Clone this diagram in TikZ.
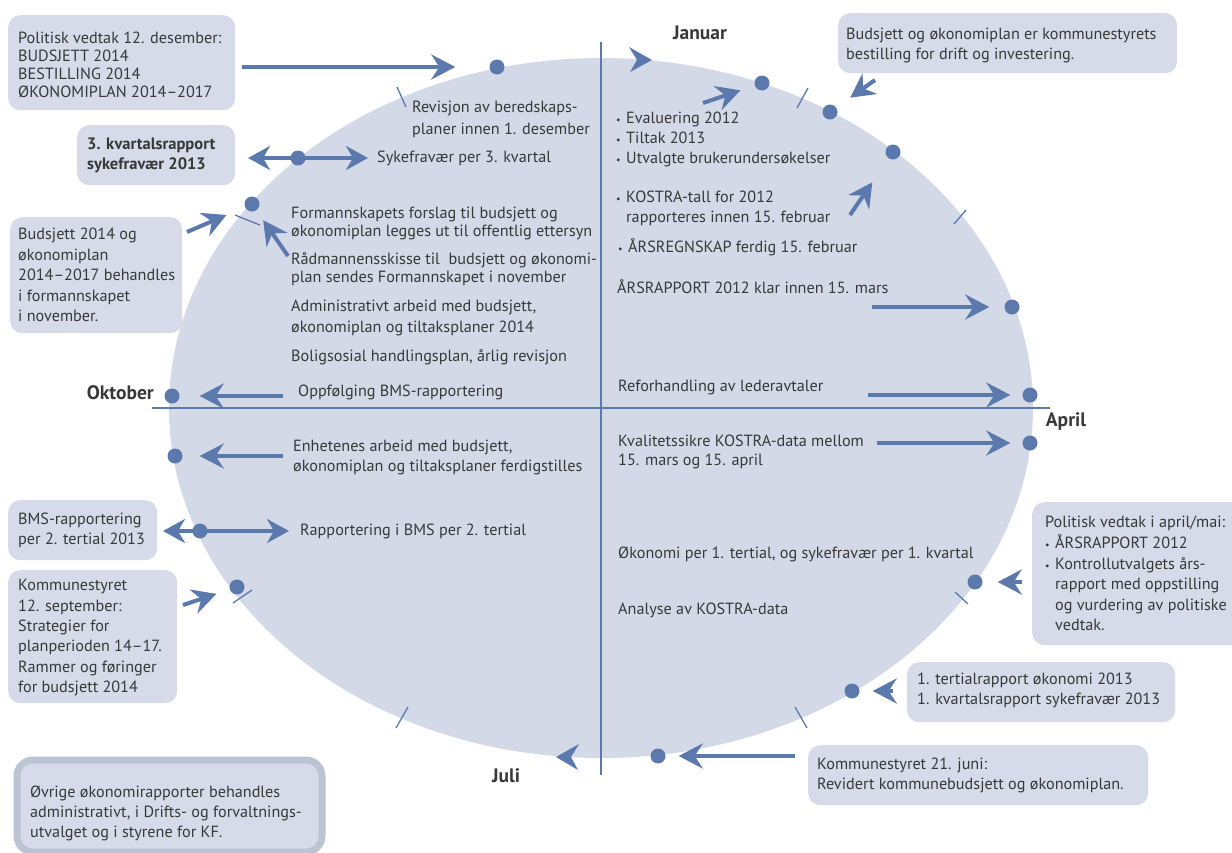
\documentclass[tikz,border=0pt]{standalone}
\usepackage{fontspec}
\setmainfont{PT Sans}
\usetikzlibrary{arrows.meta}
\definecolor{lineblue}{HTML}{5B79AD}
\definecolor{ellfill}{HTML}{D4D9E8}
\definecolor{boxfill}{HTML}{D7DBE9}
\definecolor{boxborder}{HTML}{BCC3D3}
\definecolor{txtcol}{HTML}{383838}
\newcommand{\bul}{\makebox[10pt][l]{{\fontsize{10}{10}\selectfont •}}}
\newcommand{\fs}[1]{\fontsize{16.2}{#1}\selectfont}
\tikzset{
 txt/.style={text=txtcol, font=\fs{19}, align=left, anchor=west, inner sep=0pt},
 monthlbl/.style={text=txtcol, font=\fontsize{19.5}{20}\selectfont\bfseries, inner sep=0pt},
 infobox/.style={fill=boxfill, rounded corners=12pt, anchor=north west, inner sep=0pt},
 evdot/.style={circle, fill=lineblue, minimum size=15pt, inner sep=0pt},
 arr/.style={draw=lineblue, line width=4pt, -{Stealth[length=24pt,width=25pt,inset=8pt]}},
 darr/.style={draw=lineblue, line width=4pt, {Stealth[length=22pt,width=24pt,inset=7pt]}-{Stealth[length=22pt,width=24pt,inset=7pt]}},
 monthtick/.style={draw=lineblue, line width=1.3pt},
 axisline/.style={draw=lineblue, line width=1.6pt},
 chev/.style={fill=lineblue},
}
\begin{document}
\begin{tikzpicture}[x=1pt,y=-1pt]
\useasboundingbox (0,0) rectangle (1232,852);
% wheel
\fill[ellfill] (601,408) ellipse [x radius=432, y radius=350];
\coordinate (vtop) at (601,42);
\coordinate (vbot) at (601,775);
\coordinate (hleft) at (152,408);
\coordinate (hright) at (1050,408);
\draw[axisline] (vtop) -- (vbot);
\draw[axisline] (hleft) -- (hright);

% month ticks
\draw[monthtick] (397,87) -- (406,107);
\draw[monthtick] (235,215) -- (260,225);
\draw[monthtick] (797,108) -- (808,88);
\draw[monthtick] (954,224) -- (966,210);
\draw[monthtick] (955,592) -- (968,604);
\draw[monthtick] (795,707) -- (807,728);
\draw[monthtick] (396,728) -- (408,707);
\draw[monthtick] (233,603) -- (252,590);

% direction chevrons
\fill[chev] (652,60) -- (629,47) -- (637,60) -- (630,72) -- cycle;
\fill[chev] (556,757) -- (579,744) -- (571,757) -- (578,770) -- cycle;

% month labels
\node[monthlbl] (jan) at (700,33) {Januar};
\node[monthlbl, anchor=east] (okt) at (154,393) {Oktober};
\node[monthlbl] (apr) at (1066,422) {April};
\node[monthlbl] (jul) at (506,776) {Juli};

% dots
\node[evdot] (d1) at (497,67) {};
\node[evdot] (d2) at (298,158) {};
\node[evdot] (d3) at (252,204) {};
\node[evdot] (d4) at (172,396) {};
\node[evdot] (d5) at (175,456) {};
\node[evdot] (d6) at (200,531) {};
\node[evdot] (d7) at (237,587) {};
\node[evdot] (d8) at (658,756) {};
\node[evdot] (d9) at (852,691) {};
\node[evdot] (d10) at (975,582) {};
\node[evdot] (d11) at (1030,443) {};
\node[evdot] (d12) at (1030,395) {};
\node[evdot] (d13) at (1012,307) {};
\node[evdot] (d14) at (893,152) {};
\node[evdot] (d15) at (830,112) {};
\node[evdot] (d16) at (762,83) {};

% boxes
\node[infobox, minimum width=227pt, minimum height=95pt] (boxA) at (8,15) {};
\node[txt, font=\fs{18}] (boxAt) at ([xshift=10pt,yshift=-2pt]boxA.west) {Politisk vedtak 12. desember:\\BUDSJETT 2014\\BESTILLING 2014\\ØKONOMIPLAN 2014–2017};

\node[infobox, minimum width=158pt, minimum height=60pt] (boxB) at (77,125) {};
\node[txt, font=\fontsize{16.5}{20}\selectfont\bfseries] (boxBt) at ([xshift=10pt]boxB.west) {3. kvartalsrapport\\sykefravær 2013};

\node[infobox, minimum width=172pt, minimum height=116pt] (boxC) at (10,217) {};
\node[txt, font=\fs{20.5}] (boxCt) at ([xshift=8pt]boxC.west) {Budsjett 2014 og\\økonomiplan\\2014–2017 behandles\\i formannskapet\\i november.};

\node[infobox, minimum width=339pt, minimum height=60pt] (boxD) at (838,13) {};
\node[txt, font=\fs{20}] (boxDt) at ([xshift=8pt,yshift=-2pt]boxD.west) {Budsjett og økonomiplan er kommunestyrets\\bestilling for drift og investering.};

\node[infobox, minimum width=149pt, minimum height=60pt] (boxE) at (8,500) {};
\node[txt, font=\fs{19.5}] (boxEt) at ([xshift=10pt]boxE.west) {BMS-rapportering\\per 2. tertial 2013};

\node[infobox, minimum width=169pt, minimum height=133pt] (boxF) at (8,570) {};
\node[txt, font=\fs{20.4}] (boxFt) at ([xshift=10pt,yshift=-1pt]boxF.west) {Kommunestyret\\12. september:\\Strategier for\\planperioden 14–17.\\Rammer og føringer\\for budsjett 2014};

\node[infobox, minimum width=215pt, minimum height=143pt] (boxG) at (1032,502) {};
\node[txt, font=\fs{20.6}] (boxGt) at ([xshift=13pt]boxG.west) {Politisk vedtak i april/mai:\\\bul ÅRSRAPPORT 2012\\\bul Kontrollutvalgets års-\\\hspace*{10pt}rapport med oppstilling\\\hspace*{10pt}og vurdering av politiske\\\hspace*{10pt}vedtak.};

\node[infobox, minimum width=268pt, minimum height=60pt] (boxH) at (907,662) {};
\node[txt, font=\fs{19.5}] (boxHt) at ([xshift=10pt,yshift=2pt]boxH.west) {1. tertialrapport økonomi 2013\\1. kvartalsrapport sykefravær 2013};

\node[infobox, minimum width=340pt, minimum height=60pt] (boxI) at (808,745) {};
\node[txt, font=\fs{20}] (boxIt) at ([xshift=9pt]boxI.west) {Kommunestyret 21. juni:\\Revidert kommunebudsjett og økonomiplan.};

\node[infobox, draw=boxborder, line width=7pt, rounded corners=16pt, minimum width=305pt, minimum height=92pt] (boxJ) at (13.5,756.5) {};
\node[txt, font=\fs{20}] (boxJt) at (30,813) {Øvrige økonomirapporter behandles\\administrativt, i Drifts- og forvaltnings-\\utvalget og i styrene for KF.};

% texts in the wheel
\node[txt, font=\fs{22}] (t1) at (412,119) {Revisjon av beredskaps-\\planer innen 1. desember};
\node[txt] (t2) at (377,158) {Sykefravær per 3. kvartal};
\node[txt, font=\fs{17.5}] (t3) at (291,223.5) {Formannskapets forslag til budsjett og\\økonomiplan legges ut til offentlig ettersyn};
\node[txt, font=\fs{18.5}] (t4) at (291,269) {Rådmannensskisse til\ \ budsjett og økonomi-\\plan sendes Formannskapet i november};
\node[txt, font=\fs{21}] (t5) at (291,317.5) {Administrativt arbeid med budsjett,\\økonomiplan og tiltaksplaner 2014};
\node[txt] (t6) at (291,357) {Boligsosial handlingsplan, årlig revisjon};
\node[txt] (t7) at (298,392) {Oppfølging BMS-rapportering};
\node[txt, font=\fs{20}] (t8) at (293,457) {Enhetenes arbeid med budsjett,\\økonomiplan og tiltaksplaner ferdigstilles};
\node[txt] (t9) at (300,531) {Rapportering i BMS per 2. tertial};

\node[txt, font=\fs{20}] (t10) at (616,139) {\bul Evaluering 2012\\\bul Tiltak 2013\\\bul Utvalgte brukerundersøkelser};
\node[txt, font=\fs{20}] (t11) at (616,208) {\bul KOSTRA-tall for 2012\\\hspace*{10pt}rapporteres innen 15. februar};
\node[txt] (t12) at (618,247) {\bul ÅRSREGNSKAP ferdig 15. februar};
\node[txt] (t13) at (617,287) {ÅRSRAPPORT 2012 klar innen 15. mars};
\node[txt] (t14) at (618,387) {Reforhandling av lederavtaler};
\node[txt, font=\fs{19}] (t15) at (618,451.5) {Kvalitetssikre KOSTRA-data mellom\\15. mars og 15. april};
\node[txt] (t16) at (618,554) {Økonomi per 1. tertial, og sykefravær per 1. kvartal};
\node[txt] (t17) at (618,610) {Analyse av KOSTRA-data};

% arrow tails / ends
\coordinate (aA) at (242,67);
\coordinate (bL) at (248,158);
\coordinate (bR) at (368,158);
\coordinate (aC) at (187,232);
\coordinate (aC2) at (288,256);
\coordinate (aD) at (283,396);
\coordinate (aE) at (283,456);
\coordinate (fL) at (163,531);
\coordinate (fR) at (289,531);
\coordinate (aG) at (183,605);
\coordinate (aH) at (795,756);
\coordinate (aI) at (893,691);
\coordinate (aJ) at (1022,582);
\coordinate (aK) at (877,443);
\coordinate (aL) at (868,395);
\coordinate (aM) at (872,307);
\coordinate (aN) at (850,215);
\coordinate (aO) at (875,80);
\coordinate (aP) at (703,103);

% connectors
\draw[arr, shorten >=34pt] (aA) -- (d1);
\draw[darr] (bL) -- (bR);
\draw[arr, shorten >=20pt] (aC) -- (d3);
\draw[arr, shorten >=12pt] (aC2) -- (d3);
\draw[arr, shorten >=20pt] (aD) -- (d4);
\draw[arr, shorten >=17pt] (aE) -- (d5);
\draw[darr] (fL) -- (fR);
\draw[arr, shorten >=14pt] (aG) -- (d7);
\draw[arr, shorten >=13pt] (aH) -- (d8);
\draw[arr, shorten >=13pt] (aI) -- (d9);
\draw[arr, shorten >=15pt] (aJ) -- (d10);
\draw[arr, shorten >=12pt] (aK) -- (d11);
\draw[arr, shorten >=12pt] (aL) -- (d12);
\draw[arr, shorten >=15pt] (aM) -- (d13);
\draw[arr, shorten >=29pt] (aN) -- (d14);
\draw[arr, shorten >=17pt] (aO) -- (d15);
\draw[arr, shorten >=15pt] (aP) -- (d16);
\end{tikzpicture}
\end{document}
